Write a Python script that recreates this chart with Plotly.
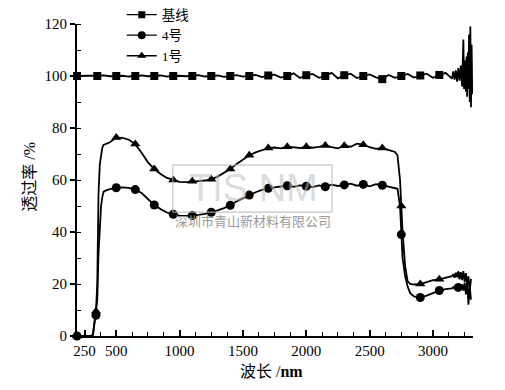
import plotly.graph_objects as go

# ---------------- data ----------------
# shared wavelength samples (nm) for samples 4号 and 1号
X = [190, 250, 300, 316, 330, 340, 350, 360, 370, 380,
     390, 400, 420, 450, 500, 550, 600, 650, 700, 750,
     800, 850, 900, 950, 1000, 1050, 1100, 1150, 1200, 1250,
     1300, 1350, 1400, 1450, 1500, 1550, 1600, 1650, 1700, 1750,
     1800, 1850, 1900, 1950, 2000, 2050, 2100, 2150, 2200, 2250,
     2300, 2350, 2400, 2450, 2500, 2550, 2600, 2650, 2700, 2720,
     2740, 2750, 2760, 2780, 2800, 2820, 2850, 2900, 2950, 3000,
     3050, 3100, 3150, 3160, 3170, 3180, 3190, 3200, 3210, 3220,
     3230, 3240, 3250, 3260, 3270, 3280, 3290, 3300]

Y4 = [0, 0, 0, 0.5, 6, 8, 14, 32, 44, 50,
      53.5, 55.5, 56, 56.5, 57, 57.2, 57, 56.3, 55, 52.5,
      50.4, 48.8, 47.5, 46.8, 46.3, 46.2, 46.3, 46.6, 47, 47.6,
      48.3, 49.2, 50.3, 51.8, 53, 54.2, 55.3, 56.2, 56.8, 57.2,
      57.5, 57.8, 57.4, 57.9, 57.6, 57.3, 57.9, 57.4, 58.2, 57.7,
      58.1, 58.6, 57.8, 58.3, 57.6, 58.4, 58.0, 57.5, 57.0, 56.6,
      50, 39, 30, 23, 19, 16.5, 15.2, 14.8, 15.5, 16.5,
      17.5, 18, 18.3, 18.8, 18.2, 19.2, 18.5, 18.7, 19.5, 17.8,
      19.8, 17.5, 20.5, 16, 21, 12, 19, 14]

Y1 = [0, 0, 0, 0.5, 7, 9.5, 20, 55, 66, 70,
      72.5, 73.5, 74, 74.5, 76.3, 76.2, 75.5, 73.8, 70.5, 66.8,
      64.2, 62.3, 60.8, 60, 59.3, 59.2, 59.5, 59.6, 59.8, 60.3,
      61.3, 62.6, 64.2, 66.2, 68, 69.5, 70.6, 71.6, 72.3, 72.5,
      72.2, 72.8, 72.5, 72.3, 72.8, 72.4, 72.7, 73.3, 72.6, 72.2,
      73.2, 72.8, 74.0, 73.6, 72.6, 72.0, 72.3, 71.6, 70.8, 69.5,
      60, 50, 40, 27, 21, 20, 19.8, 20, 20.8, 21.5,
      21.8, 22.5, 23, 23.8, 22.4, 24.3, 22.8, 23.5, 21.8, 24.6,
      21.5, 25, 20.8, 24.2, 19.5, 23, 17, 22]

# baseline samples
BASE_X = [190, 250, 300, 350, 400, 450, 500, 550, 600, 650,
          700, 750, 800, 850, 900, 950, 1000, 1050, 1100, 1150,
          1200, 1250, 1300, 1350, 1400, 1450, 1500, 1550, 1600, 1650,
          1700, 1750, 1800, 1850, 1900, 1950, 2000, 2050, 2100, 2150,
          2200, 2250, 2300, 2350, 2400, 2450, 2500, 2550, 2600, 2650,
          2700, 2750, 2800, 2850, 2900, 2950, 3000, 3050, 3100, 3150,
          3160, 3170, 3180, 3190, 3200, 3210, 3220, 3230, 3240, 3245,
          3250, 3260, 3265, 3270, 3275, 3280, 3285, 3290, 3295, 3300,
          3305, 3310]

BASE_Y = [100.0, 100.1, 99.9, 100.0, 100.2, 99.9, 100.0, 100.1, 99.8, 100.0,
          100.2, 99.9, 100.0, 100.2, 99.8, 100.0, 100.1, 99.9, 100.0, 100.3,
          99.8, 100.0, 100.2, 99.7, 100.0, 100.3, 99.8, 100.0, 100.4, 99.6,
          100.2, 100.5, 99.4, 100.0, 101.0, 99.2, 100.3, 100.8, 99.3, 100.0,
          101.2, 99.1, 100.3, 100.9, 99.2, 100.0, 100.6, 99.5, 98.8, 100.4,
          99.3, 100.0, 100.8, 99.4, 100.2, 100.9, 99.3, 100.4, 101.2, 99.0,
          101.8, 98.6, 102.2, 97.8, 103.0, 98.2, 104.0, 96.0, 114.0, 95.0,
          106.0, 94.0, 107.5, 92.0, 109.0, 95.0, 116.0, 90.0, 119.0, 88.0,
          112.0, 93.0]

# wavelengths carrying a symbol
MARK_X = [190, 340, 500, 650, 800, 950, 1100, 1250, 1400, 1550, 1700,
          1850, 2000, 2150, 2300, 2450, 2600, 2750, 2900, 3050, 3200]
BASE_MARK_X = [190, 350, 500, 650, 800, 950, 1100, 1250, 1400, 1550,
               1700, 1850, 2000, 2150, 2300, 2450, 2600, 2750, 2900, 3050]

NAMES = ["基线", "4号", "1号"]
X_TICKS = [250, 500, 1000, 1500, 2000, 2500, 3000]
X_TICK_TEXT = ["250", "500", "1000", "1500", "2000", "2500", "3000"]

assert len(X) == len(Y4) == len(Y1)
assert len(BASE_X) == len(BASE_Y)

# ---------------- figure ----------------
FONT = "Liberation Serif, Times New Roman, Noto Sans CJK SC, serif"
BLACK = "#000000"


def pick(xs, ys, marks):
    sel = [(x, y) for x, y in zip(xs, ys) if x in marks]
    return [p[0] for p in sel], [p[1] for p in sel]


fig = go.Figure()

series = [
    (BASE_X, BASE_Y, BASE_MARK_X, "square", 8),
    (X, Y4, MARK_X, "circle", 9),
    (X, Y1, MARK_X, "triangle-up", 9),
]

for (xs, ys, marks, sym, size) in series:
    fig.add_trace(go.Scatter(x=xs, y=ys, mode="lines",
                             line=dict(color=BLACK, width=1.8),
                             showlegend=False, hoverinfo="skip"))
    mx, my = pick(xs, ys, marks)
    fig.add_trace(go.Scatter(x=mx, y=my, mode="markers",
                             marker=dict(symbol=sym, size=size, color=BLACK),
                             showlegend=False, cliponaxis=False))

for name, (_, _, _, sym, size) in zip(NAMES, series):
    fig.add_trace(go.Scatter(x=[None], y=[None], mode="lines+markers", name=name,
                             line=dict(color=BLACK, width=1.3),
                             marker=dict(symbol=sym, size=size - 1, color=BLACK)))

# the page adds an 8px body margin, so the margins are shifted accordingly
fig.update_layout(
    width=505, height=390,
    margin=dict(l=69, r=40, t=16, b=62, autoexpand=False),
    paper_bgcolor="white", plot_bgcolor="white",
    font=dict(family=FONT, size=15, color=BLACK),
    legend=dict(x=0.113, y=1.079, xanchor="left", yanchor="top",
                bgcolor="rgba(0,0,0,0)", itemwidth=30, tracegroupgap=0,
                font=dict(size=13.5, family=FONT)),
)

fig.update_xaxes(
    range=[190, 3316], showgrid=False, zeroline=False,
    showline=True, linecolor=BLACK, linewidth=2,
    tickmode="array", tickvals=X_TICKS, ticktext=X_TICK_TEXT,
    ticks="inside", ticklen=6, tickwidth=1.5, tickcolor=BLACK,
    minor=dict(ticks="inside", tickmode="linear", tick0=0, dtick=125,
               ticklen=4, tickwidth=1.2, tickcolor=BLACK),
    tickfont=dict(size=15, family=FONT),
)
fig.update_yaxes(
    range=[0, 120], showgrid=False, zeroline=False,
    showline=True, linecolor=BLACK, linewidth=2,
    tickmode="linear", tick0=0, dtick=20,
    ticks="outside", ticklen=5, tickwidth=1.5, tickcolor=BLACK,
    minor=dict(ticks="inside", tickmode="linear", tick0=0, dtick=10,
               ticklen=4, tickwidth=1.2, tickcolor=BLACK),
    tickfont=dict(size=15, family=FONT),
)

# axis titles
fig.add_annotation(text="波长 /<b>nm</b>", xref="paper", yref="paper",
                   x=0.492, y=-0.115, xanchor="center", yanchor="middle",
                   showarrow=False, font=dict(size=16, family=FONT))
fig.add_annotation(text="透过率 /%", xref="paper", yref="paper",
                   x=-0.119, y=0.51, xanchor="center", yanchor="middle",
                   textangle=-90, showarrow=False, font=dict(size=16, family=FONT))

# faint watermark seen on the source image
fig.add_shape(type="rect", xref="paper", yref="paper",
              x0=0.242, x1=0.644, y0=0.397, y1=0.548,
              line=dict(color="#b8b8b8", width=1), layer="above")
fig.add_annotation(text="TIS NM", xref="paper", yref="paper",
                   x=0.445, y=0.475, xanchor="center", yanchor="middle",
                   showarrow=False,
                   font=dict(size=38, family="Liberation Sans, sans-serif",
                             color="rgba(190,190,190,0.55)"))
fig.add_annotation(text="深圳市青山新材料有限公司", xref="paper", yref="paper",
                   x=0.445, y=0.37, xanchor="center", yanchor="middle",
                   showarrow=False,
                   font=dict(size=13, family="Noto Sans CJK SC, sans-serif", color="#9a9a9a"))

fig.write_html("out.html")
